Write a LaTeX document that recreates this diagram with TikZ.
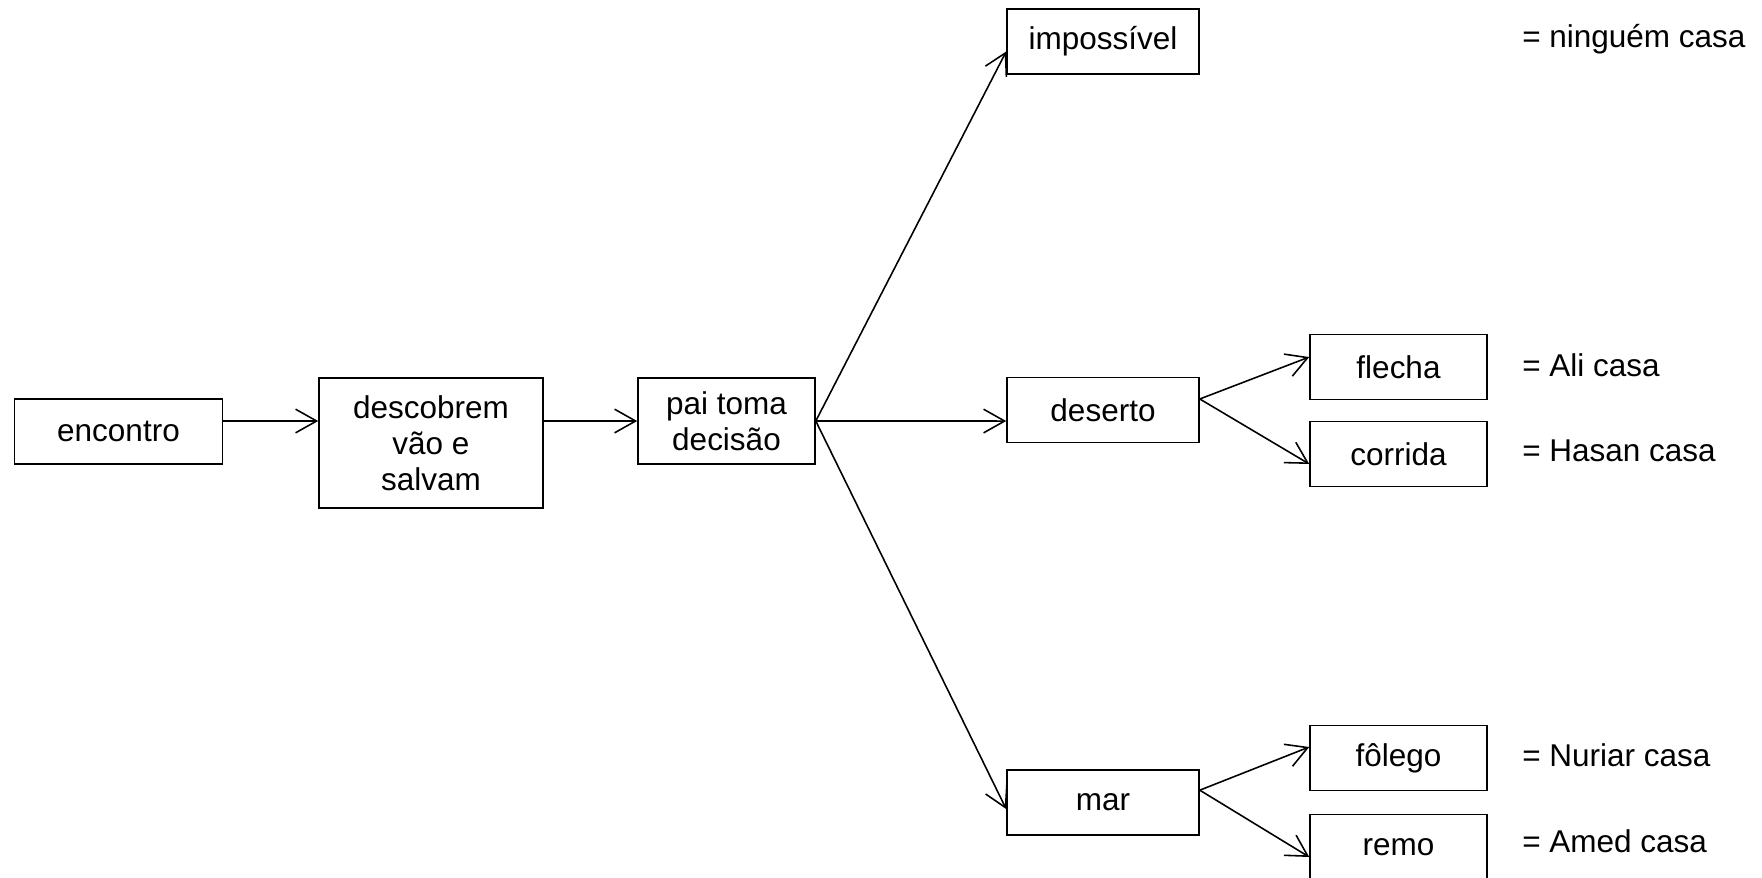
\documentclass[tikz,border=0pt]{standalone}
\usepackage{fontspec}
\setmainfont{Liberation Sans}
\usetikzlibrary{arrows.meta}

\begin{document}
\begin{tikzpicture}[>={Straight Barb[length=8pt,width=9pt]},line width=0.6pt,x=0.381pt,y=-0.381pt]
  \tikzset{every node/.style={font=\fontsize{12pt}{13.8pt}\selectfont},
           box/.style={draw,align=center,inner sep=0pt,minimum height=65*0.381pt},
           result/.style={anchor=west,inner sep=0pt}}
  \useasboundingbox (0,0) rectangle (1762,877);
  \node[box,minimum width=208*0.381pt]                          (enc)  at (118.5, 431.5) {encontro};
  \node[box,minimum width=224*0.381pt,minimum height=130*0.381pt] (desc) at (431, 443)   {descobrem\\vão e\\salvam};
  \node[box,minimum width=177*0.381pt,minimum height=86*0.381pt]  (pai)  at (726.5, 421) {pai toma\\decisão};
  \node[box,minimum width=192*0.381pt]                          (imp)  at (1103, 41.5)  {impossível};
  \node[box,minimum width=192*0.381pt]                          (des)  at (1103, 410)   {deserto};
  \node[box,minimum width=192*0.381pt]                          (mar)  at (1103, 802.5) {mar};
  \node[box,minimum width=177*0.381pt]                          (fle)  at (1398.5, 367) {flecha};
  \node[box,minimum width=177*0.381pt]                          (cor)  at (1398.5, 454) {corrida};
  \node[box,minimum width=177*0.381pt]                          (fol)  at (1398.5, 758) {fôlego};
  \node[box,minimum width=177*0.381pt]                          (rem)  at (1398.5, 847) {remo};
  \node[result] (rimp) at (1521.5, 39)    {= ninguém casa};
  \node[result] (rfle) at (1521.5, 365)   {= Ali casa};
  \node[result] (rcor) at (1521.5, 450.5) {= Hasan casa};
  \node[result] (rfol) at (1521.5, 755)   {= Nuriar casa};
  \node[result] (rrem) at (1521.5, 841.5) {= Amed casa};
  \path[->] (enc.east |- pai.west)  edge (desc.west |- pai.west)
            (desc.east |- pai.west) edge (pai.west)
            (pai.east) edge ([yshift=-3.8pt]imp.west)
            (pai.east) edge ([yshift=-4.2pt]des.west)
            (pai.east) edge ([yshift=-2.5pt]mar.west)
            ([yshift=4.2pt]des.east) edge ([yshift=3.8pt]fle.west)
            ([yshift=4.2pt]des.east) edge ([yshift=-3.8pt]cor.west)
            ([yshift=4.7pt]mar.east) edge ([yshift=4.2pt]fol.west)
            ([yshift=4.7pt]mar.east) edge ([yshift=-3.8pt]rem.west);
\end{tikzpicture}
\end{document}
